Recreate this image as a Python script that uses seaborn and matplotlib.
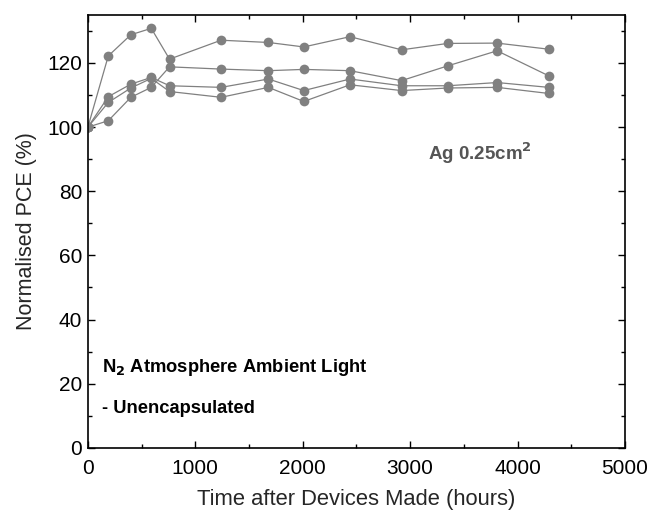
import matplotlib
matplotlib.use("Agg")
import matplotlib.pyplot as plt
from matplotlib.ticker import MultipleLocator
import seaborn as sns
import pandas as pd

time_h = [0, 190, 400, 590, 760, 1240, 1680, 2010, 2440, 2920, 3350, 3810, 4290]
device_a = [100, 122.2, 128.8, 130.8, 121.2, 127.1, 126.4, 125.0, 128.2, 124.1, 126.1, 126.2, 124.3]
device_b = [100, 102.0, 109.3, 112.4, 118.8, 118.1, 117.6, 118.0, 117.6, 114.5, 119.1, 123.8, 116.0]
device_c = [100, 109.5, 113.4, 115.5, 112.9, 112.4, 115.0, 111.4, 115.0, 112.9, 112.9, 113.9, 112.4]
device_d = [100, 107.7, 112.2, 115.2, 111.1, 109.3, 112.4, 108.0, 113.2, 111.4, 112.2, 112.4, 110.5]

series = {"A": device_a, "B": device_b, "C": device_c, "D": device_d}
rows = []
for name, vals in series.items():
    for t, v in zip(time_h, vals):
        rows.append({"time": t, "pce": v, "device": name})
df = pd.DataFrame(rows)

sns.set_style("ticks")
plt.rcParams["font.family"] = ["Liberation Sans", "DejaVu Sans"]

fig = plt.figure(figsize=(6.51, 5.13), dpi=100)
ax = fig.add_axes([0.135, 0.127, 0.825, 0.844])

sns.lineplot(data=df, x="time", y="pce", units="device", estimator=None,
             color="#808080", marker="o", markersize=7, markeredgewidth=0,
             linewidth=0.9, ax=ax, sort=False)

ax.set_xlim(0, 5000)
ax.set_ylim(0, 135)
ax.xaxis.set_major_locator(MultipleLocator(1000))
ax.xaxis.set_minor_locator(MultipleLocator(500))
ax.yaxis.set_major_locator(MultipleLocator(20))
ax.yaxis.set_minor_locator(MultipleLocator(10))
ax.tick_params(which="both", direction="in", top=True, right=True,
               labelsize=15, width=1, color="black", labelcolor="black")
ax.tick_params(which="major", length=5)
ax.tick_params(which="minor", length=3)
ax.tick_params(axis="x", which="major", pad=8)
ax.tick_params(axis="y", which="major", pad=4)
for s in ax.spines.values():
    s.set_linewidth(1.2)
    s.set_color("black")

ax.set_xlabel("Time after Devices Made (hours)", fontsize=15.8, labelpad=8)
ax.set_ylabel("Normalised PCE (%)", fontsize=15.5, labelpad=7)

ax.text(4130, 92, "Ag 0.25cm$^\\mathbf{2}$", ha="right", va="center",
        fontsize=13.5, fontweight="bold", color="#555555")
ax.text(130, 25, "N$_\\mathbf{2}$ Atmosphere Ambient Light", ha="left", va="center",
        fontsize=13.2, fontweight="bold", color="black")
ax.text(130, 12.4, "- Unencapsulated", ha="left", va="center",
        fontsize=13.2, fontweight="bold", color="black")

fig.savefig("out.png", dpi=100)
